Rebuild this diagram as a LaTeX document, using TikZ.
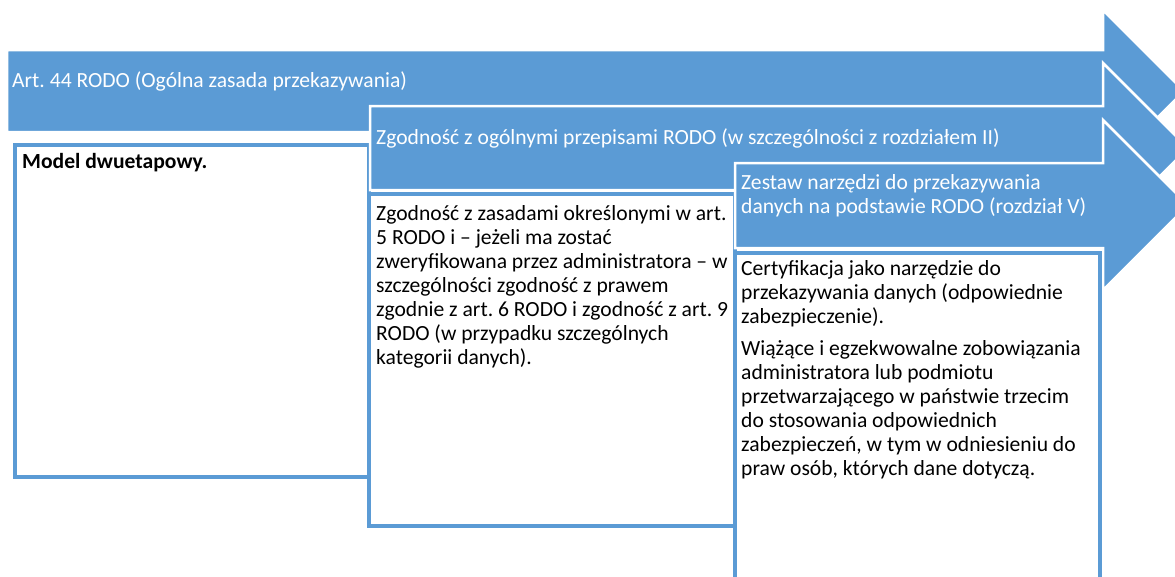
\documentclass[tikz,border=0pt]{standalone}
\usepackage{fontspec}
\setmainfont{Carlito}
\frenchspacing
\definecolor{niebieski}{HTML}{5B9BD5}
\begin{document}
\begin{tikzpicture}[x=1pt,y=-1pt,line join=miter,
strzalka/.style={fill=niebieski,draw=white,line width=2.5pt},
ramka/.style={fill=white,draw=niebieski,line width=3.5pt},
napis/.style={anchor=base west,inner sep=0pt,align=left,
font=\fontsize{21.6}{24}\selectfont}]
\useasboundingbox (0,0) rectangle (1175,576);
\clip (0,0) rectangle (1175,576);
% Strzałka 1 i ramka pod nią
\draw[strzalka] (7,50) -- (1103,50) -- (1103,10) -- (1184,91)
-- (1103,172) -- (1103,132) -- (7,132) -- cycle;
\node[napis,white] (art44) at (12,87)
{Art. 44 RODO (Ogólna zasada przekazywania)};
\draw[ramka] (15,145) rectangle (369,477);
\node[napis,font=\fontsize{21.6}{24}\selectfont\bfseries] (model) at (22,168)
{Model dwuetapowy.};
% Strzałka 2 i ramka pod nią
\draw[strzalka] (370,106) -- (1103,106) -- (1103,63) -- (1188,148)
-- (1103,233) -- (1103,190) -- (370,190) -- cycle;
\node[napis,white] (ogolne) at (376,144)
{Zgodność z ogólnymi przepisami RODO (w szczególności z rozdziałem II)};
\draw[ramka] (369,194) rectangle (735,526);
% (punkt zaczepienia = linia bazowa ostatniego wiersza)
\node[napis] (zasady) at (376,364)
{Zgodność z zasadami określonymi w art.\\
5 RODO i – jeżeli ma zostać\\
zweryfikowana przez administratora – w\\
szczególności zgodność z prawem\\
zgodnie z art. 6 RODO i zgodność z art. 9\\
RODO (w przypadku szczególnych\\
kategorii danych).};
% Strzałka 3 i ramka pod nią
\draw[strzalka] (735,163) -- (1103,163) -- (1103,120) -- (1188,205)
-- (1103,290) -- (1103,248) -- (735,248) -- cycle;
\node[napis,white] (zestaw) at (741,213)
{Zestaw narzędzi do przekazywania\\
danych na podstawie RODO (rozdział V)};
\draw[ramka] (735,253) rectangle (1100,600);
\node[napis] (certyfikacja) at (741,475)
{Certyfikacja jako narzędzie do\\
przekazywania danych (odpowiednie\\
zabezpieczenie).\\[8pt]
Wiążące i egzekwowalne zobowiązania\\
administratora lub podmiotu\\
przetwarzającego w państwie trzecim\\
do stosowania odpowiednich\\
zabezpieczeń, w tym w odniesieniu do\\
praw osób, których dane dotyczą.};
\end{tikzpicture}
\end{document}
